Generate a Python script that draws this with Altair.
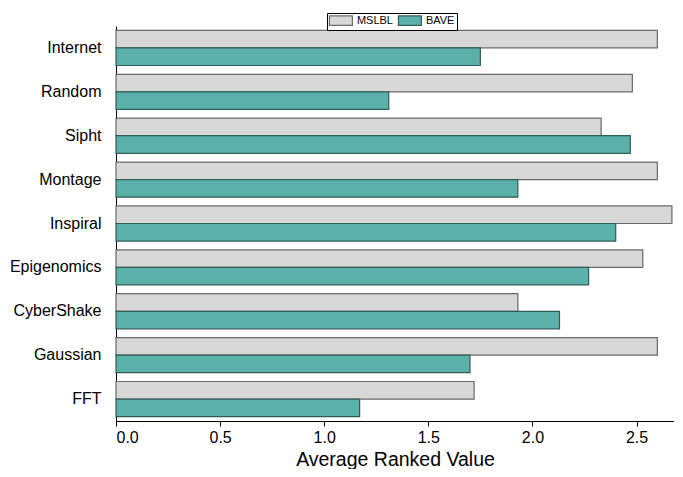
import altair as alt
import pandas as pd

categories = ["Internet", "Random", "Sipht", "Montage", "Inspiral",
              "Epigenomics", "CyberShake", "Gaussian", "FFT"]
series = ["MSLBL", "BAVE"]
mslbl = [2.60, 2.48, 2.33, 2.60, 2.67, 2.53, 1.93, 2.60, 1.72]
bave = [1.75, 1.31, 2.47, 1.93, 2.40, 2.27, 2.13, 1.70, 1.17]
x_ticks = [0.0, 0.5, 1.0, 1.5, 2.0, 2.5]

rows = []
for c, a, b in zip(categories, mslbl, bave):
    rows.append({"workflow": c, "method": "MSLBL", "value": a})
    rows.append({"workflow": c, "method": "BAVE", "value": b})
df = pd.DataFrame(rows)

fills = ["#d8d8d8", "#5cb0aa"]
strokes = ["#6a6a6a", "#2f5d5a"]

chart = alt.Chart(df).mark_bar(strokeWidth=1.2).encode(
    y=alt.Y("workflow:N", sort=categories,
            scale=alt.Scale(paddingInner=0.2, paddingOuter=0.1),
            axis=alt.Axis(title=None, ticks=False, labelFontSize=16,
                          labelPadding=15, labelColor="black",
                          domainColor="black", labelFont="Liberation Sans")),
    yOffset=alt.YOffset("method:N", sort=series,
                        scale=alt.Scale(paddingInner=0, paddingOuter=0)),
    x=alt.X("value:Q", scale=alt.Scale(domain=[0, 2.68], nice=False),
            axis=alt.Axis(title="Average Ranked Value", values=x_ticks,
                          format=".1f", grid=False, tickSize=5,
                          tickColor="black", domainColor="black",
                          labelColor="black", labelFontSize=16,
                          labelFont="Liberation Sans", titleFont="Liberation Sans",
                          titleFontSize=19.5, titleFontWeight="normal",
                          titleColor="black", labelPadding=3, titlePadding=5)),
    color=alt.Color("method:N", sort=series,
                    scale=alt.Scale(domain=series, range=fills),
                    legend=alt.Legend(title=None, orient="none", direction="horizontal",
                                      legendX=211, legendY=-13,
                                      symbolType="M-2.55,-1.05H2.55V1.05H-2.55Z",
                                      symbolSize=81, symbolStrokeWidth=1.2,
                                      symbolOffset=6.4,
                                      labelFontSize=11, labelFont="Liberation Sans",
                                      labelColor="black", labelOffset=10.5,
                                      columnPadding=3, padding=2,
                                      strokeColor="black", fillColor="white")),
    stroke=alt.Stroke("method:N", sort=series,
                      scale=alt.Scale(domain=series, range=strokes),
                      legend=None),
).properties(
    width=558, height=395,
    padding={"left": 1, "top": 4, "right": 0, "bottom": 0},
).configure_view(stroke=None).configure_axis(grid=False)

chart.save("out.html", embed_options={"renderer": "svg", "actions": False})
